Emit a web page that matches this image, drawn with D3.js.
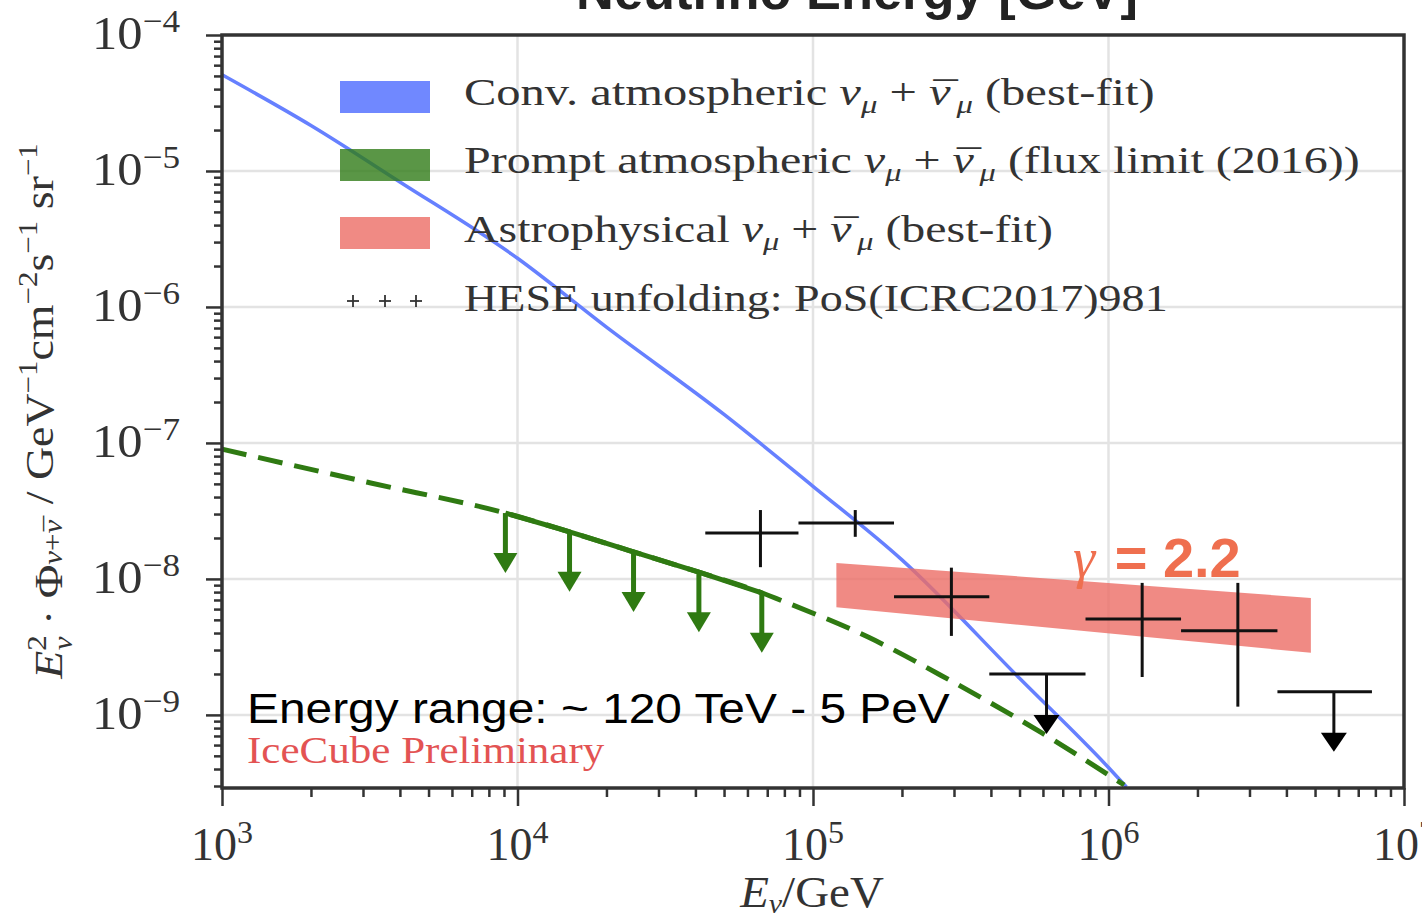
<!DOCTYPE html>
<html><head><meta charset="utf-8">
<script src="https://cdn.jsdelivr.net/npm/d3@7"></script>
<style>html,body{margin:0;padding:0;background:#fff;} svg{display:block;}</style>
</head><body>
<svg id="chart" width="1422" height="922"></svg>
<script>
// ---------------- data ----------------
const convE = [1e3, 2e3, 4e3, 1e4, 2e4, 5e4, 1e5, 2e5, 5e5, 1e6, 1.15e6];
const convFlux = [5.1e-5, 2.16e-5, 8.3e-6, 2.28e-6, 7.1e-7, 1.62e-7, 4.8e-8, 1.38e-8, 1.86e-9, 4.1e-10, 2.95e-10];
const promptE = [1e3, 3.16e3, 9.1e3, 1.5e4, 2.47e4, 4.11e4, 6.71e4, 8.0e4, 1.53e5, 2.89e5, 5.93e5, 1.13e6];
const promptFlux = [9.0e-8, 5.1e-8, 3.05e-8, 2.22e-8, 1.58e-8, 1.12e-8, 7.9e-9, 6.8e-9, 3.75e-9, 1.81e-9, 7.4e-10, 3.05e-10];
const promptLimitE = [9.1e3, 1.5e4, 2.47e4, 4.11e4, 6.71e4];
const promptLimitFlux = [3.05e-8, 2.22e-8, 1.58e-8, 1.12e-8, 7.9e-9];
const astroE = [1.2e5, 4.84e6];
const astroUpper = [1.31e-8, 7.24e-9];
const astroLower = [6.2e-9, 2.86e-9];
const heseE = [6.64e4, 1.39e5, 2.94e5, 6.17e5, 1.30e6, 2.74e6, 5.79e6];
const heseELow = [4.32e4, 8.93e4, 1.88e5, 3.95e5, 8.36e5, 1.76e6, 3.73e6];
const heseEHigh = [8.93e4, 1.88e5, 3.95e5, 8.36e5, 1.76e6, 3.73e6, 7.79e6];
const heseFlux = [2.18e-8, 2.58e-8, 7.38e-9, 2.0e-9, 5.08e-9, 4.15e-9, 1.48e-9];
const heseFluxLow = [1.22e-8, 2.04e-8, 3.81e-9, null, 1.90e-9, 1.15e-9, null];
const heseFluxHigh = [3.21e-8, 3.21e-8, 1.21e-8, null, 9.35e-9, 9.35e-9, null];
const heseUpperLimit = [false, false, false, true, false, false, true];
const xTickExps = [3, 4, 5, 6, 7];
const yTickExps = [-4, -5, -6, -7, -8, -9];
const legendLabels = ["Conv. atmospheric", "Prompt atmospheric", "Astrophysical", "HESE unfolding: PoS(ICRC2017)981"];
const legendSuffix = ["(best-fit)", "(flux limit (2016))", "(best-fit)", ""];

// ---------------- layout ----------------
const SERIF = "'Liberation Serif','DejaVu Serif',serif";
const SANS = "'Liberation Sans',Arial,sans-serif";
const L = 222, R = 1404, T = 35, B = 788;
const svg = d3.select("#chart");
const x = d3.scaleLog().domain([1e3, 1e7]).range([L, R]);
const y = d3.scaleLog().domain([2.9e-10, 1e-4]).range([B, T]);

function fit(sel, tx, ty, w, extra) {
  const bw = sel.node().getBBox().width;
  sel.attr("transform", `translate(${tx},${ty}) ${extra || ""} scale(${w / bw},1)`);
}
// nu-bar: italic nu followed by a macron pulled back over it
function nuBar(t, fs) {
  t.append("tspan").attr("font-style", "italic").text("\u03bd");
  t.append("tspan").attr("font-style", "normal").attr("dx", -0.36 * fs).attr("dy", 0.08 * fs).text("\u00af");
  t.append("tspan").attr("dy", -0.08 * fs).attr("font-size", 1).text(" ");
}

// grid
const grid = svg.append("g").attr("stroke", "#e3e3e3").attr("stroke-width", 2.5);
[1e4, 1e5, 1e6].forEach(v => grid.append("line").attr("x1", x(v)).attr("x2", x(v)).attr("y1", T).attr("y2", B));
[1e-5, 1e-6, 1e-7, 1e-8, 1e-9].forEach(v => grid.append("line").attr("y1", y(v)).attr("y2", y(v)).attr("x1", L).attr("x2", R));

// axes with ticks
const xMinor = [], yMinor = [];
for (let e = 3; e < 7; e++) for (let k = 2; k <= 9; k++) xMinor.push(k * Math.pow(10, e));
for (let e = -10; e < -4; e++) for (let k = 2; k <= 9; k++) { const v = k * Math.pow(10, e); if (v > 2.9e-10 && v < 1e-4) yMinor.push(v); }
const xMajor = xTickExps.map(e => Math.pow(10, e));
const yMajor = yTickExps.map(e => Math.pow(10, e));

function styleAxis(g) { g.select(".domain").remove(); g.selectAll("line").attr("stroke", "#333").attr("stroke-width", 2.5); g.selectAll("text").remove(); }
svg.append("g").attr("transform", `translate(0,${B})`).call(d3.axisBottom(x).tickValues(xMinor).tickSize(9).tickFormat("")).call(styleAxis);
svg.append("g").attr("transform", `translate(0,${B})`).call(d3.axisBottom(x).tickValues(xMajor).tickSize(18).tickFormat("")).call(styleAxis);
svg.append("g").attr("transform", `translate(${L},0)`).call(d3.axisLeft(y).tickValues(yMinor).tickSize(8).tickFormat("")).call(styleAxis);
svg.append("g").attr("transform", `translate(${L},0)`).call(d3.axisLeft(y).tickValues(yMajor).tickSize(16).tickFormat("")).call(styleAxis);

// conventional atmospheric
const lineGen = d3.line().x(d => x(d[0])).y(d => y(d[1])).curve(d3.curveMonotoneX);
svg.append("path").attr("d", lineGen(convE.map((e, i) => [e, convFlux[i]])))
  .attr("fill", "none").attr("stroke", "#6680ff").attr("stroke-width", 3.5);

// prompt
svg.append("path").attr("d", lineGen(promptE.map((e, i) => [e, promptFlux[i]])))
  .attr("fill", "none").attr("stroke", "#2f7a12").attr("stroke-width", 5).attr("stroke-dasharray", "25,12");
svg.append("path").attr("d", lineGen(promptLimitE.map((e, i) => [e, promptLimitFlux[i]])))
  .attr("fill", "none").attr("stroke", "#2f7a12").attr("stroke-width", 5);
promptLimitE.forEach((e, i) => {
  const px = x(e), py = y(promptLimitFlux[i]);
  svg.append("line").attr("x1", px).attr("x2", px).attr("y1", py).attr("y2", py + 45)
    .attr("stroke", "#2f7a12").attr("stroke-width", 5);
  svg.append("path").attr("d", `M${px - 12},${py + 40} L${px + 12},${py + 40} L${px},${py + 60} Z`).attr("fill", "#2f7a12");
});

// astrophysical band
const area = d3.area().x(d => x(d[0])).y0(d => y(d[1])).y1(d => y(d[2]));
svg.append("path").attr("d", area(astroE.map((e, i) => [e, astroLower[i], astroUpper[i]])))
  .attr("fill", "#ec6d65").attr("opacity", 0.8);

// HESE points
const hese = svg.append("g").attr("stroke", "#111").attr("stroke-width", 3);
heseE.forEach((e, i) => {
  const py = y(heseFlux[i]);
  hese.append("line").attr("x1", x(heseELow[i])).attr("x2", x(heseEHigh[i])).attr("y1", py).attr("y2", py);
  if (heseUpperLimit[i]) {
    hese.append("line").attr("x1", x(e)).attr("x2", x(e)).attr("y1", py).attr("y2", py + 45);
    svg.append("path").attr("d", `M${x(e) - 13},${py + 41} L${x(e) + 13},${py + 41} L${x(e)},${py + 60} Z`).attr("fill", "#000");
  } else {
    hese.append("line").attr("x1", x(e)).attr("x2", x(e)).attr("y1", y(heseFluxLow[i])).attr("y2", y(heseFluxHigh[i]));
  }
});

// frame
svg.append("rect").attr("x", L).attr("y", T).attr("width", R - L).attr("height", B - T)
  .attr("fill", "none").attr("stroke", "#333").attr("stroke-width", 3.5);

// tick labels
xTickExps.forEach(e => {
  const t = svg.append("text").attr("x", x(Math.pow(10, e))).attr("y", 860).attr("text-anchor", "middle")
    .attr("font-family", SERIF).attr("font-size", 46).attr("fill", "#333");
  t.append("tspan").text("10");
  t.append("tspan").attr("font-size", 32).attr("dy", -17).text(String(e));
});
yTickExps.forEach(e => {
  const t = svg.append("text").attr("text-anchor", "end")
    .attr("font-family", SERIF).attr("font-size", 46).attr("fill", "#333");
  t.append("tspan").text("10");
  t.append("tspan").attr("font-size", 32).attr("dy", -17).text("\u2212" + Math.abs(e));
  fit(t, 180, y(Math.pow(10, e)) + 14, 88);
});

// axis titles
const xt = svg.append("text").attr("text-anchor", "middle").attr("font-family", SERIF).attr("font-size", 44).attr("fill", "#333");
xt.append("tspan").attr("font-style", "italic").text("E");
xt.append("tspan").attr("font-style", "italic").attr("font-size", 28).attr("dy", 6).text("\u03bd");
xt.append("tspan").attr("dy", -6).text("/GeV");
fit(xt, 812, 907, 145);

const yt = svg.append("text").attr("text-anchor", "middle").attr("font-family", SERIF).attr("font-size", 40).attr("fill", "#333");
yt.append("tspan").attr("font-style", "italic").text("E");
yt.append("tspan").attr("font-size", 27).attr("dy", -16).text("2");
yt.append("tspan").attr("font-style", "italic").attr("font-size", 27).attr("dx", -13).attr("dy", 26).text("\u03bd");
yt.append("tspan").attr("dy", -10).text(" \u00b7 \u03a6");
const ytSub = yt.append("tspan").attr("font-size", 27).attr("dy", 9);
yt.append("tspan").attr("font-style", "italic").attr("font-size", 27).text("\u03bd");
yt.append("tspan").attr("font-size", 27).text("+");
yt.append("tspan").attr("font-style", "italic").attr("font-size", 27).text("\u03bd");
yt.append("tspan").attr("font-size", 27).attr("dx", -10).attr("dy", 2).text("\u00af");
yt.append("tspan").attr("dy", -11).text(" / GeV");
yt.append("tspan").attr("font-size", 27).attr("dy", -16).text("\u22121");
yt.append("tspan").attr("dy", 16).text("cm");
yt.append("tspan").attr("font-size", 27).attr("dy", -16).text("\u22122");
yt.append("tspan").attr("dy", 16).text("s");
yt.append("tspan").attr("font-size", 27).attr("dy", -16).text("\u22121");
yt.append("tspan").attr("dy", 16).text(" sr");
yt.append("tspan").attr("font-size", 27).attr("dy", -16).text("\u22121");
fit(yt, 62, 411, 537, "rotate(-90)");

// title (cropped at top, as in the reference)
const title = svg.append("text").attr("text-anchor", "middle").attr("font-family", SANS).attr("font-weight", "bold")
  .attr("font-size", 52).attr("fill", "#222").text("Neutrino Energy [GeV]");
fit(title, 857, 9, 562);

// legend
const legendColors = [["#4c6aff", 0.8], ["#317c18", 0.8], ["#ec6d65", 0.8]];
const boxY = [81, 149, 217];
legendColors.forEach((c, i) => svg.append("rect").attr("x", 340).attr("y", boxY[i]).attr("width", 90).attr("height", 32)
  .attr("fill", c[0]).attr("opacity", c[1]));
[353, 385, 416].forEach(cx => {
  svg.append("line").attr("x1", cx - 6).attr("x2", cx + 6).attr("y1", 301).attr("y2", 301).attr("stroke", "#333").attr("stroke-width", 1.8);
  svg.append("line").attr("x1", cx).attr("x2", cx).attr("y1", 295).attr("y2", 307).attr("stroke", "#333").attr("stroke-width", 1.8);
});
const legBase = [105, 173, 242, 311];
const legW = [691, 896, 589, 704];
legendLabels.forEach((lab, i) => {
  const t = svg.append("text").attr("font-family", SERIF).attr("font-size", 37).attr("fill", "#333");
  t.append("tspan").text(lab);
  if (i < 3) {
    t.append("tspan").attr("font-style", "italic").text(" \u03bd");
    t.append("tspan").attr("font-style", "italic").attr("font-size", 25).attr("dy", 8).text("\u03bc");
    t.append("tspan").attr("dy", -8).text(" + ");
    t.append("tspan").attr("font-style", "italic").text("\u03bd");
    t.append("tspan").attr("dx", -13).attr("dy", 3).text("\u00af");
    t.append("tspan").attr("font-style", "italic").attr("font-size", 25).attr("dx", -1).attr("dy", 5).text("\u03bc");
    t.append("tspan").attr("dy", -8).text(" " + legendSuffix[i]);
  }
  fit(t, 464, legBase[i], legW[i]);
});

// annotations
const er = svg.append("text").attr("font-family", SANS).attr("font-size", 42).attr("fill", "#000")
  .text("Energy range: ~ 120 TeV - 5 PeV");
fit(er, 247, 723, 703);
const ic = svg.append("text").attr("font-family", SERIF).attr("font-size", 37).attr("fill", "#e35353")
  .text("IceCube Preliminary");
fit(ic, 247, 763, 358);
const g = svg.append("text").attr("x", 1073).attr("y", 577).attr("fill", "#ef6f4f").attr("font-size", 56);
g.append("tspan").attr("font-family", SERIF).attr("font-style", "italic").text("\u03b3");
g.append("tspan").attr("font-family", SANS).attr("font-weight", "bold").attr("dx", 4).text(" = 2.2");
</script>
</body></html>
